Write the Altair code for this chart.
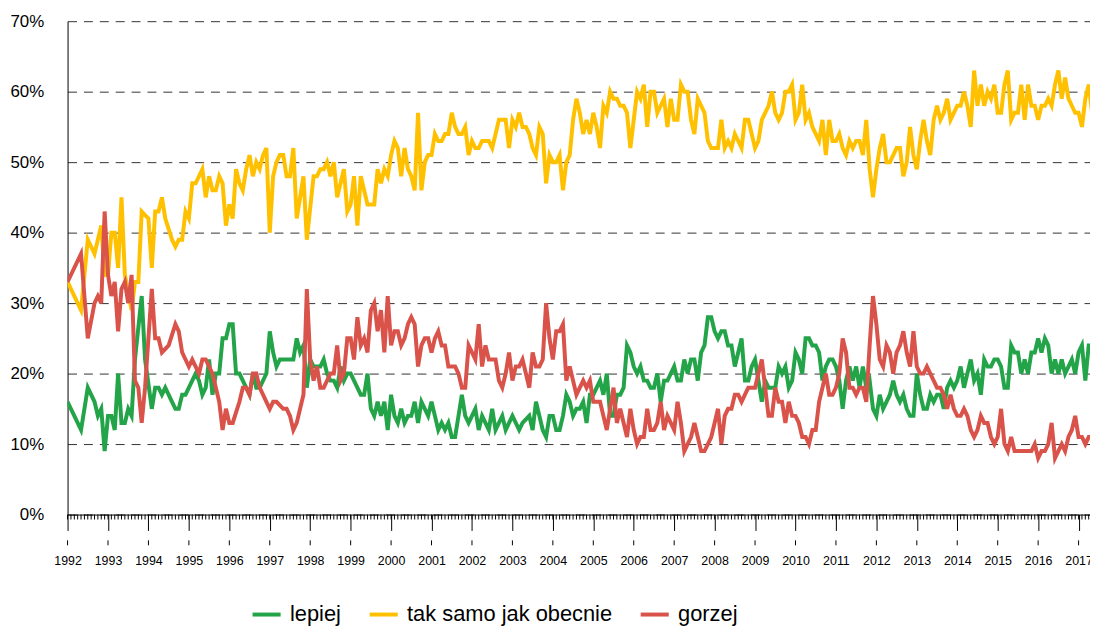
import altair as alt
import pandas as pd

START_YEAR = 1992
series_names = ["lepiej", "tak samo jak obecnie", "gorzej"]
series_colors = ["#23A449", "#FFC000", "#D9534B"]
year_ticks = list(range(1992, 2018))
y_ticks = [0, 10, 20, 30, 40, 50, 60, 70]

# monthly values (%), one row per year starting Jan 1992; None = no reading
lepiej = [
    16, None, None, None, 12, None, 18, None, 16, 14, 15, 9,
    14, 14, 12, 20, 13, 13, 15, 14, 22, None, 31, 22,
    None, 15, 18, 18, 17, 18, None, 16, 15, 15, 17, 17,
    18, 19, 20, 19, 17, 18, 22, 17, 20, 20, 25, 25,
    27, 27, 20, 20, None, 18, 17, 20, 18, 18, None, 20,
    26, 23, 21, 22, None, 22, None, 22, 25, 23, 24, 18,
    22, 21, 21, 21, 22, 20, 19, 19, 18, 21, 19, 20,
    20, 19, 18, 17, 17, 20, 15, 14, 16, 14, 16, 12,
    17, 14, 13, 15, 13, 14, 14, 16, 13, 16, 15, 14,
    16, 14, 12, 13, 12, 13, 11, 11, None, 17, 14, 13,
    14, 15, 12, 14, 13, 12, 15, 12, 13, 14, 12, 13,
    14, 13, 12, 13, None, 14, 12, 16, 14, 12, 11, 14,
    14, 12, 12, 14, 17, 16, 14, 15, 15, 16, 13, 17,
    17, 18, 19, 17, 20, 14, 14, 17, 17, 18, 24, 23,
    21, 20, 21, 19, 19, 18, 18, 20, 16, 19, 19, 20,
    21, 19, 19, 22, 20, 22, 22, 19, 23, 24, 28, 28,
    26, 25, 26, 26, 24, 24, 21, 23, 25, 19, 19, 21,
    22, 19, 16, 19, 18, 18, 18, 21, 20, 21, 18, 19,
    23, 22, 20, 25, 25, 24, 24, 23, 19, 21, 22, 22,
    21, 19, 15, 19, 21, 19, 21, 18, 21, 18, 19, 15,
    14, 17, 15, 16, 17, 19, 17, 16, 17, 15, 14, 14,
    20, 17, 15, 15, 17, 16, 17, 17, 15, 18, 19, 18,
    19, 21, 18, 20, 22, 19, 20, 17, 22, 21, 21, 22,
    22, 21, 18, 18, 24, 23, 23, 20, 22, 20, 23, 23,
    25, 23, 25, 24, 20, 22, 20, 22, 20, 21, 22, 20,
    23, 24, 19, 24, 24,
]

tak_samo = [
    33, None, None, None, 29, None, 39, None, 37, None, 41, 34,
    34, 40, 40, 35, 45, 34, None, 29, 33, 33, 43, None,
    42, 35, 43, 43, 45, 42, None, 39, 38, 39, 39, 43,
    42, 47, 47, 48, 49, 45, 48, 46, 46, 48, 47, 41,
    44, 42, 49, 47, 46, 49, 51, 48, 50, 49, 51, 52,
    40, 48, 50, 51, 51, 48, 48, 52, 42, 45, 48, 39,
    None, 48, 48, 49, 49, 50, 48, 50, 45, 47, 49, 43,
    44, 48, 41, 48, 46, 44, 44, 44, 49, 47, 49, 48,
    51, 53, 52, 48, 52, 49, 48, 46, 57, 46, 50, 51,
    51, 54, 53, 53, 54, 54, 57, 55, 54, 54, 55, 51,
    53, 52, 52, 53, 53, 53, 52, 54, 56, 56, 56, 52,
    56, 55, 57, 55, 55, 54, 52, 51, 55, 54, 47, 51,
    50, 50, 51, 46, 50, 51, 56, 59, 57, 54, 56, 54,
    57, 55, 52, 58, 57, 60, 59, 59, 58, 58, 57, 52,
    56, 60, 59, 61, 55, 60, 60, 57, 58, 59, 55, 59,
    56, 56, 61, 60, 60, 56, 54, 59, 58, 57, 53, 52,
    52, 52, 56, 52, 53, 52, 54, 53, 52, 56, 56, 54,
    52, 53, 56, 57, 58, 60, 57, 56, 57, 60, 60, 61,
    56, 57, 61, 56, 57, 55, 54, 53, 56, 51, 56, 53,
    53, 54, 52, 51, 53, 52, 53, 53, 51, 56, 49, 45,
    49, 52, 54, 50, 50, 51, 52, 52, 48, 50, 55, 51,
    49, 53, 56, 53, 51, 56, 58, 56, 57, 59, 56, 57,
    58, 58, 60, 58, 55, 63, 58, 61, 58, 60, 59, 61,
    57, 57, 61, 63, 56, 57, 57, 61, 56, 61, 58, 58,
    56, 58, 58, 59, 58, 61, 63, 59, 62, 59, 58, 57,
    57, 55, 59, 61, 57,
]

gorzej = [
    33, None, None, None, 37, None, 25, None, 30, 31, 30, 43,
    34, 31, 33, 26, 32, 33, 30, 34, 19, 18, 13, 18,
    None, 32, 25, 25, 23, None, 24, None, 27, 26, 23, 22,
    21, 22, 21, 20, 22, 22, 21, 20, None, 16, 12, 15,
    13, 13, None, 16, 18, 18, 17, 20, 20, 18, 17, 16,
    15, 16, 16, None, 15, 15, 14, 12, 13, 15, 17, 32,
    22, 19, 21, 18, 18, 19, 20, 20, 24, 19, 20, 25,
    25, 22, 28, 24, 25, 23, 29, 30, 26, 29, 23, 31,
    24, 26, 26, 24, 25, 27, 28, 27, 21, 24, 25, 25,
    23, 25, 26, 24, 24, 21, 21, 21, 20, 18, 18, 24,
    23, 22, 27, 21, 24, 22, 22, 22, 19, 18, 20, 23,
    19, 21, 21, 22, 20, 18, 23, 21, 21, 22, 30, 25,
    22, 26, 26, 27, 19, 21, 19, 17, 18, 19, 18, 19,
    16, 16, 16, 14, 12, 15, 18, 13, 15, 13, 11, 15,
    12, 10, 11, 11, 15, 12, 12, 13, 16, 12, 14, 13,
    12, 16, 13, 9, 10, 11, 13, 11, 9, 9, 10, 11,
    13, 15, 10, 14, 15, 15, 17, 17, 16, 17, 18, 18,
    18, 20, 22, 18, 14, 14, 18, 16, 16, 13, 16, 14,
    14, 13, 11, 11, 10, 12, 12, 16, 18, 20, 17, 17,
    18, 20, 25, 23, 18, 18, 17, 18, 18, 16, 24, 31,
    27, 22, 21, 24, 23, 20, 23, 24, 26, 23, 21, 26,
    21, 20, 20, 21, 20, 19, 18, 18, 17, 15, 17, 15,
    14, 14, 15, 14, 12, 11, 12, 14, 13, 13, 11, 10,
    11, 15, 10, 9, 11, 9, 9, 9, 9, 9, 9, 10,
    8, 9, 9, 10, 13, 8, 9, 10, 9, 11, 12, 14,
    11, 11, 10, 11, 11,
]

rows = []
for name, vals in zip(series_names, [lepiej, tak_samo, gorzej]):
    for m, v in enumerate(vals):
        if v is not None:
            rows.append({"t": START_YEAR + m / 12, "v": v, "s": name})
df = pd.DataFrame(rows)
n_months = len(lepiej)
months_df = pd.DataFrame({"t": [START_YEAR + m / 12 for m in range(n_months)]})
years_df = pd.DataFrame({"t": year_ticks})

W, H = 1030, 497
PX_PER_YEAR = 40.74
FONT = "Liberation Sans"

xscale = alt.Scale(domain=[START_YEAR, START_YEAR + W / PX_PER_YEAR], nice=False, zero=False)
yscale = alt.Scale(domain=[0, 70], nice=False)

x_axis = alt.Axis(values=year_ticks, format="d", grid=False, tickSize=16,
                  labelPadding=24, labelFontSize=12.5, labelFont=FONT,
                  labelColor="black", domainColor="black", tickColor="black",
                  labelFlush=False, labelOverlap=False, title=None)

lines = alt.Chart(df).mark_line(strokeWidth=4, clip=True).encode(
    x=alt.X("t:Q", scale=xscale, title=None, axis=x_axis),
    y=alt.Y("v:Q", scale=yscale, title=None,
            axis=alt.Axis(values=y_ticks, labelExpr="datum.value + '%'", ticks=False,
                          tickSize=0, labelPadding=24, grid=True, gridDash=[9, 7],
                          gridColor="#333333", gridWidth=1, domainColor="black",
                          labelFontSize=17, labelFont=FONT, labelColor="black")),
    color=alt.Color("s:N", scale=alt.Scale(domain=series_names, range=series_colors),
                    legend=alt.Legend(orient="none", legendX=184, legendY=581,
                                      direction="horizontal", title=None,
                                      symbolType="stroke", symbolStrokeWidth=4,
                                      symbolSize=800, labelFontSize=22, labelFont=FONT,
                                      labelColor="black", columnPadding=20,
                                      labelOffset=7, padding=0, labelLimit=500)),
)

minor_ticks = alt.Chart(months_df).mark_rule(color="black", strokeWidth=1).encode(
    x=alt.X("t:Q", scale=xscale, title=None, axis=x_axis),
    y=alt.value(H),
    y2=alt.value(H + 5),
)

detached_ticks = alt.Chart(years_df).mark_rule(color="black", strokeWidth=1).encode(
    x=alt.X("t:Q", scale=xscale, title=None, axis=x_axis),
    y=alt.value(H + 26),
    y2=alt.value(H + 31),
)

chart = alt.layer(lines, minor_ticks, detached_ticks).properties(
    width=W,
    height=H,
    autosize=alt.AutoSizeParams(type="none"),
    padding={"left": 60, "top": 11, "right": 0, "bottom": 110},
).configure_view(stroke=None)

chart.save("out.html", embed_options={"renderer": "svg", "actions": False})
